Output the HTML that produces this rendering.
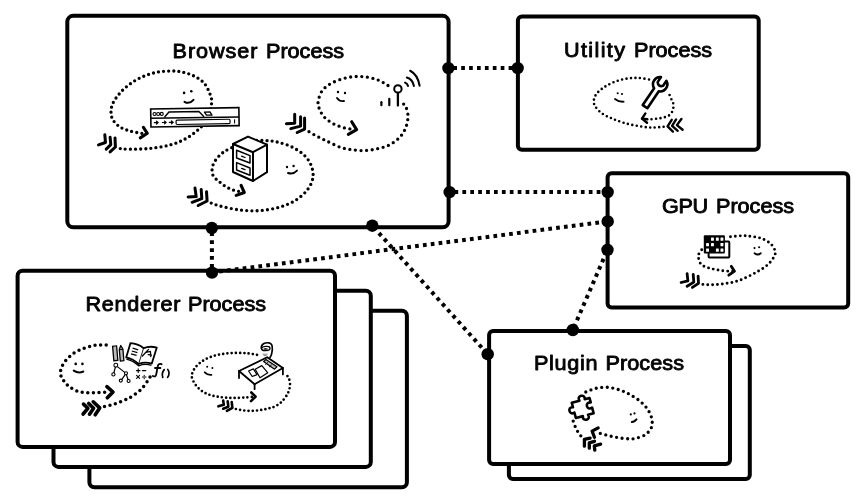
<!DOCTYPE html>
<html><head><meta charset="utf-8"><title>Browser processes</title>
<style>html,body{margin:0;padding:0;background:#fff;}body{width:865px;height:499px;overflow:hidden;font-family:"Liberation Sans",sans-serif;}svg{display:block;will-change:transform;opacity:0.999;}text{font-family:"Liberation Sans",sans-serif;}</style></head><body>
<svg width="865" height="499" viewBox="0 0 865 499">
<rect width="865" height="499" fill="#fff"/>
<g id="boxes">
<rect x="89.4" y="310.7" width="317.5" height="176.5" rx="5" fill="#fff" stroke="#000" stroke-width="4"/>
<rect x="53.5" y="290.8" width="317.3" height="176.1" rx="5" fill="#fff" stroke="#000" stroke-width="4"/>
<rect x="17.6" y="270.8" width="317.4" height="176.1" rx="5" fill="#fff" stroke="#000" stroke-width="4"/>
<rect x="508.9" y="345.9" width="240.9" height="133.1" rx="4" fill="#fff" stroke="#000" stroke-width="4"/>
<rect x="489.1" y="331.0" width="240.9" height="133.0" rx="4" fill="#fff" stroke="#000" stroke-width="4"/>
<rect x="67.3" y="15.8" width="381.3" height="211.5" rx="6" fill="#fff" stroke="#000" stroke-width="4"/>
<rect x="517.9" y="16.5" width="240.8" height="133.2" rx="4" fill="#fff" stroke="#000" stroke-width="4"/>
<rect x="607.6" y="173.3" width="240.6" height="134.1" rx="4" fill="#fff" stroke="#000" stroke-width="4"/>
</g>
<g id="connectors">
<line x1="448.4" y1="68.1" x2="517.7" y2="68.1" stroke="#000" stroke-width="4" stroke-dasharray="3.7 4.2" stroke-dashoffset="-4.9"/>
<line x1="449.0" y1="192.1" x2="607.7" y2="192.1" stroke="#000" stroke-width="4" stroke-dasharray="3.7 4.2" stroke-dashoffset="-5.5"/>
<line x1="211.9" y1="228.0" x2="211.9" y2="272.5" stroke="#000" stroke-width="4" stroke-dasharray="3.7 4.2" stroke-dashoffset="-4.4"/>
<line x1="212.0" y1="272.5" x2="607.7" y2="221.4" stroke="#000" stroke-width="4" stroke-dasharray="3.7 4.2" stroke-dashoffset="-7.3"/>
<line x1="372.3" y1="225.7" x2="487.7" y2="354.2" stroke="#000" stroke-width="4" stroke-dasharray="3.7 4.2" stroke-dashoffset="-2"/>
<line x1="607.5" y1="249.8" x2="572.8" y2="330.0" stroke="#000" stroke-width="4" stroke-dasharray="3.7 4.2" stroke-dashoffset="-2"/>
<circle cx="448.4" cy="68.1" r="6.2" fill="#000"/>
<circle cx="517.7" cy="68.1" r="6.2" fill="#000"/>
<circle cx="449.6" cy="192.1" r="6.2" fill="#000"/>
<circle cx="607.7" cy="192.1" r="6.2" fill="#000"/>
<circle cx="607.7" cy="221.4" r="6.2" fill="#000"/>
<circle cx="607.5" cy="249.8" r="6.2" fill="#000"/>
<circle cx="211.8" cy="228.0" r="6.2" fill="#000"/>
<circle cx="212.0" cy="272.6" r="6.2" fill="#000"/>
<circle cx="372.3" cy="225.7" r="6.2" fill="#000"/>
<circle cx="487.7" cy="354.2" r="6.2" fill="#000"/>
<circle cx="572.8" cy="330.0" r="6.2" fill="#000"/>
</g>
<g id="labels" style="opacity:0.99;will-change:transform">
<text transform="translate(172.50 57.6) scale(1.05 1)" x="0" y="0" font-size="20.6" font-weight="normal" textLength="80.97" lengthAdjust="spacing" fill="#000" stroke="#000" stroke-width="0.9" stroke-linejoin="round" vector-effect="non-scaling-stroke">Browser</text>
<text transform="translate(266.00 57.6) scale(1.05 1)" x="0" y="0" font-size="20.6" font-weight="normal" textLength="74.30" lengthAdjust="spacing" fill="#000" stroke="#000" stroke-width="0.9" stroke-linejoin="round" vector-effect="non-scaling-stroke">Process</text>
<text transform="translate(564.00 56.8) scale(1.05 1)" x="0" y="0" font-size="20.6" font-weight="normal" textLength="58.10" lengthAdjust="spacing" fill="#000" stroke="#000" stroke-width="0.9" stroke-linejoin="round" vector-effect="non-scaling-stroke">Utility</text>
<text transform="translate(634.00 56.8) scale(1.05 1)" x="0" y="0" font-size="20.6" font-weight="normal" textLength="74.30" lengthAdjust="spacing" fill="#000" stroke="#000" stroke-width="0.9" stroke-linejoin="round" vector-effect="non-scaling-stroke">Process</text>
<text transform="translate(662.00 212.6) scale(1.05 1)" x="0" y="0" font-size="20.6" font-weight="normal" textLength="43.83" lengthAdjust="spacing" fill="#000" stroke="#000" stroke-width="0.9" stroke-linejoin="round" vector-effect="non-scaling-stroke">GPU</text>
<text transform="translate(716.00 212.6) scale(1.05 1)" x="0" y="0" font-size="20.6" font-weight="normal" textLength="74.30" lengthAdjust="spacing" fill="#000" stroke="#000" stroke-width="0.9" stroke-linejoin="round" vector-effect="non-scaling-stroke">Process</text>
<text transform="translate(534.00 370.3) scale(1.05 1)" x="0" y="0" font-size="20.6" font-weight="normal" textLength="60.51" lengthAdjust="spacing" fill="#000" stroke="#000" stroke-width="0.9" stroke-linejoin="round" vector-effect="non-scaling-stroke">Plugin</text>
<text transform="translate(605.50 370.3) scale(1.05 1)" x="0" y="0" font-size="20.6" font-weight="normal" textLength="74.79" lengthAdjust="spacing" fill="#000" stroke="#000" stroke-width="0.9" stroke-linejoin="round" vector-effect="non-scaling-stroke">Process</text>
<text transform="translate(85.50 310.8) scale(1.05 1)" x="0" y="0" font-size="20.6" font-weight="normal" textLength="90.50" lengthAdjust="spacing" fill="#000" stroke="#000" stroke-width="0.9" stroke-linejoin="round" vector-effect="non-scaling-stroke">Renderer</text>
<text transform="translate(188.00 310.8) scale(1.05 1)" x="0" y="0" font-size="20.6" font-weight="normal" textLength="74.30" lengthAdjust="spacing" fill="#000" stroke="#000" stroke-width="0.9" stroke-linejoin="round" vector-effect="non-scaling-stroke">Process</text>
</g>
<g id="d-browser-ui">
<path d="M120.3 148.6 C121.9 148.7 125.0 149.2 130.0 149.2 C134.9 149.2 143.3 149.1 150.0 148.4 C156.7 147.7 164.0 146.7 170.0 145.0 C176.0 143.3 181.2 141.2 186.0 138.5 C190.8 135.8 195.3 132.4 199.0 129.0 C202.7 125.6 205.9 122.3 208.0 118.0 C210.1 113.7 211.3 107.0 211.6 103.0 C211.9 99.0 211.3 97.3 210.0 94.0 C208.7 90.7 206.7 86.0 204.0 83.0 C201.3 80.0 197.7 77.8 194.0 76.0 C190.3 74.2 186.0 72.8 182.0 72.0 C178.0 71.2 174.3 70.9 170.0 71.0 C165.7 71.1 160.7 71.4 156.0 72.4 C151.3 73.4 146.3 75.1 142.0 77.0 C137.7 78.9 133.7 81.3 130.0 84.0 C126.3 86.7 122.8 89.8 120.0 93.0 C117.2 96.2 114.5 99.8 113.0 103.0 C111.5 106.2 111.0 109.2 111.0 112.0 C111.0 114.8 111.5 117.5 113.0 120.0 C114.5 122.5 117.2 125.2 120.0 127.0 C122.8 128.8 126.5 130.0 130.0 131.0 C133.5 132.0 138.4 132.8 141.0 133.2 C143.6 133.6 144.8 133.4 145.5 133.4" fill="none" stroke="#000" stroke-width="3.3" stroke-linecap="round" stroke-dasharray="0 5.1"/>
<path d="M143.4 127.4 L147.3 133.3 L140.3 137.9" fill="none" stroke="#000" stroke-width="3.1" stroke-linecap="round" stroke-linejoin="round"/>
<path d="M104.8 134.7 L105.5 142.5 L98.5 144.9" fill="none" stroke="#000" stroke-width="3" stroke-linecap="round" stroke-linejoin="round"/>
<path d="M110.1 137.2 L110.8 144.6 L106.2 149.1" fill="none" stroke="#000" stroke-width="3" stroke-linecap="round" stroke-linejoin="round"/>
<path d="M115.0 137.9 L115.4 147.0 L110.1 151.9" fill="none" stroke="#000" stroke-width="3" stroke-linecap="round" stroke-linejoin="round"/>
<circle cx="184.1" cy="92.9" r="1.3" fill="#000" stroke="#000" stroke-width="0"/>
<circle cx="191.3" cy="91.2" r="1.3" fill="#000" stroke="#000" stroke-width="0"/>
<path d="M184.5 101.8 Q189.3 104.6 193.5 99.8" fill="none" stroke="#000" stroke-width="2" stroke-linecap="round"/>
<g transform="rotate(-0.9 195 117)">
<rect x="150.8" y="108.3" width="88.2" height="18" fill="#fff" stroke="#000" stroke-width="1.6"/>
<line x1="150.8" y1="117.6" x2="239" y2="117.6" stroke="#000" stroke-width="1.5"/>
<circle cx="154.6" cy="113.4" r="1.5" fill="#fff" stroke="#000" stroke-width="1.1"/>
<circle cx="158.2" cy="113.4" r="1.5" fill="#fff" stroke="#000" stroke-width="1.1"/>
<circle cx="161.8" cy="113.4" r="1.5" fill="#fff" stroke="#000" stroke-width="1.1"/>
<path d="M164.5 116.8 L169 111.6 L199 111.6 L204 116.8" fill="none" stroke="#000" stroke-width="1.4" stroke-linejoin="round"/>
<path d="M204.5 112.2 L210 112.2 L212 115.4 L206.5 115.4 Z" fill="#fff" stroke="#000" stroke-width="1.3" stroke-linejoin="round"/>
<path d="M154.3 122 h3.4 M156.4 120.6 l1.6 1.4 l-1.6 1.4" fill="none" stroke="#000" stroke-width="1.2" stroke-linecap="round"/>
<path d="M162.3 122 h3.4 M164.4 120.6 l1.6 1.4 l-1.6 1.4" fill="none" stroke="#000" stroke-width="1.2" stroke-linecap="round"/>
<path d="M169.3 122 h3.4 M171.4 120.6 l1.6 1.4 l-1.6 1.4" fill="none" stroke="#000" stroke-width="1.2" stroke-linecap="round"/>
<rect x="176" y="119.8" width="54" height="4.4" rx="1.2" fill="#fff" stroke="#000" stroke-width="1.2"/>
<line x1="234.5" y1="120" x2="234.5" y2="124.2" stroke="#000" stroke-width="1.1"/>
</g></g>
<g id="d-browser-storage">
<path d="M211.2 203.1 C212.7 203.6 215.2 204.8 220.0 206.0 C224.8 207.2 233.3 209.2 240.0 210.0 C246.7 210.8 253.3 211.1 260.0 210.6 C266.7 210.1 274.0 208.8 280.0 207.0 C286.0 205.2 291.3 203.0 296.0 200.0 C300.7 197.0 305.2 192.8 308.0 189.0 C310.8 185.2 312.5 181.0 313.0 177.0 C313.5 173.0 312.5 168.7 311.0 165.0 C309.5 161.3 307.2 158.0 304.0 155.0 C300.8 152.0 296.3 149.1 292.0 147.0 C287.7 144.9 282.3 143.3 278.0 142.2 C273.7 141.1 270.7 140.8 266.0 140.6 C261.3 140.4 255.8 139.8 250.0 141.0 C244.2 142.2 236.0 145.7 231.0 148.0 C226.0 150.3 223.0 152.2 220.0 155.0 C217.0 157.8 214.2 161.8 213.0 165.0 C211.8 168.2 211.9 171.6 212.5 174.0 C213.1 176.4 215.3 178.2 216.5 179.5 C217.7 180.8 218.4 181.0 219.7 182.0 C221.0 183.0 222.6 184.5 224.1 185.5 C225.6 186.5 227.0 187.3 228.6 188.1 C230.2 188.9 231.8 189.6 233.4 190.1 C235.0 190.6 236.8 191.0 238.3 191.3 C239.8 191.7 241.8 192.0 242.5 192.2" fill="none" stroke="#000" stroke-width="3.3" stroke-linecap="round" stroke-dasharray="0 5.2"/>
<path d="M241.1 185.3 L244.3 192.5 L236.2 195.4" fill="none" stroke="#000" stroke-width="3.1" stroke-linecap="round" stroke-linejoin="round"/>
<path d="M195.0 188.1 L196.2 196.6 L188.1 197.0" fill="none" stroke="#000" stroke-width="3" stroke-linecap="round" stroke-linejoin="round"/>
<path d="M201.2 189.5 L201.8 198.6 L192.1 202.3" fill="none" stroke="#000" stroke-width="3" stroke-linecap="round" stroke-linejoin="round"/>
<path d="M206.5 191.7 L207.1 201.0 L198.2 205.5" fill="none" stroke="#000" stroke-width="3" stroke-linecap="round" stroke-linejoin="round"/>
<circle cx="287.0" cy="167.0" r="1.2" fill="#000" stroke="#000" stroke-width="0"/>
<circle cx="293.6" cy="166.0" r="1.2" fill="#000" stroke="#000" stroke-width="0"/>
<path d="M288.0 173.0 Q293.0 174.8 297.0 170.6" fill="none" stroke="#000" stroke-width="1.9" stroke-linecap="round"/>
<path d="M233.0 144.0 L248.0 136.6 L267.0 144.6 L267.0 172.2 L253.0 181.0 L233.0 172.0 Z" fill="#fff" stroke="#000" stroke-width="2" stroke-linecap="round" stroke-linejoin="round"/>
<path d="M233.0 144.0 L253.0 152.2 L267.0 144.6" fill="none" stroke="#000" stroke-width="2" stroke-linecap="round" stroke-linejoin="round"/>
<path d="M253.0 152.2 L253.0 181.0" fill="none" stroke="#000" stroke-width="2" stroke-linecap="round" stroke-linejoin="round"/>
<path d="M236.6 150.2 L250.0 155.6 L250.0 163.0 L236.6 158.0 Z" fill="#fff" stroke="#000" stroke-width="1.5" stroke-linecap="round" stroke-linejoin="round"/>
<path d="M236.6 162.6 L250.0 168.0 L250.0 175.2 L236.6 170.0 Z" fill="#fff" stroke="#000" stroke-width="1.5" stroke-linecap="round" stroke-linejoin="round"/>
<path d="M241.6 156.2 L245.0 157.5" fill="none" stroke="#000" stroke-width="1.3" stroke-linecap="round" stroke-linejoin="round"/>
<path d="M241.6 168.4 L245.0 169.7" fill="none" stroke="#000" stroke-width="1.3" stroke-linecap="round" stroke-linejoin="round"/>
</g>
<g id="d-browser-net">
<path d="M309.0 131.7 C309.9 132.2 312.4 133.8 314.1 134.7 C315.8 135.6 317.4 136.5 319.1 137.4 C320.8 138.3 322.5 139.1 324.2 139.9 C325.9 140.7 326.7 141.1 329.3 142.3 C331.9 143.5 336.2 145.8 339.6 147.0 C343.1 148.2 345.9 148.8 350.0 149.4 C354.1 150.0 359.3 150.7 364.0 150.6 C368.7 150.5 373.7 149.6 378.0 148.6 C382.3 147.6 386.3 146.5 390.0 144.6 C393.7 142.7 397.3 139.9 400.0 137.0 C402.7 134.1 404.7 130.5 406.0 127.0 C407.3 123.5 408.0 119.3 408.0 116.0 C408.0 112.7 406.7 109.0 406.0 107.0 C405.3 105.0 404.0 104.5 403.6 104.0" fill="none" stroke="#000" stroke-width="3.3" stroke-linecap="round" stroke-dasharray="0 5.6"/>
<path d="M388.0 85.5 C386.3 84.6 381.7 81.4 378.0 80.0 C374.3 78.6 370.0 77.6 366.0 77.0 C362.0 76.4 358.0 76.3 354.0 76.6 C350.0 76.9 346.0 77.8 342.0 79.0 C338.0 80.2 333.3 82.0 330.0 84.0 C326.7 86.0 324.0 88.2 322.0 91.0 C320.0 93.8 318.7 98.3 318.2 101.0 C317.7 103.7 318.3 105.3 318.8 107.2 C319.3 109.1 320.1 110.7 321.0 112.4 C321.9 114.1 323.2 115.9 324.5 117.3 C325.8 118.7 327.3 119.8 328.8 120.9 C330.3 122.0 331.9 123.0 333.6 123.9 C335.3 124.8 337.0 125.4 338.8 126.1 C340.6 126.8 342.6 127.4 344.4 127.9 C346.2 128.4 348.1 128.7 349.8 128.9 C351.5 129.2 353.7 129.3 354.5 129.4" fill="none" stroke="#000" stroke-width="3.3" stroke-linecap="round" stroke-dasharray="0 5.6"/>
<path d="M351.7 121.7 L356.6 129.6 L348.3 134.3" fill="none" stroke="#000" stroke-width="3.1" stroke-linecap="round" stroke-linejoin="round"/>
<path d="M294.7 114.3 L294.7 123.2 L286.4 123.7" fill="none" stroke="#000" stroke-width="3" stroke-linecap="round" stroke-linejoin="round"/>
<path d="M300.6 116.8 L300.6 126.1 L290.8 128.6" fill="none" stroke="#000" stroke-width="3" stroke-linecap="round" stroke-linejoin="round"/>
<path d="M304.6 118.0 L304.6 129.1 L297.2 132.5" fill="none" stroke="#000" stroke-width="3" stroke-linecap="round" stroke-linejoin="round"/>
<circle cx="338.0" cy="92.0" r="1.2" fill="#000" stroke="#000" stroke-width="0"/>
<circle cx="345.0" cy="93.0" r="1.2" fill="#000" stroke="#000" stroke-width="0"/>
<path d="M337.0 98.0 Q339.5 101.7 344.0 101.0" fill="none" stroke="#000" stroke-width="1.9" stroke-linecap="round"/>
<circle cx="397.9" cy="88.9" r="3.7" fill="#fff" stroke="#000" stroke-width="2"/>
<path d="M397.9 93.1 L397.9 105.6" fill="none" stroke="#000" stroke-width="2.3" stroke-linecap="round" stroke-linejoin="round"/>
<path d="M389.3 98.8 L389.3 105.2" fill="none" stroke="#000" stroke-width="2.2" stroke-linecap="round" stroke-linejoin="round"/>
<path d="M381.4 102.2 L381.4 105.2" fill="none" stroke="#000" stroke-width="2.2" stroke-linecap="round" stroke-linejoin="round"/>
<path d="M405.1 82.6 Q407.4 83.6 408 85.9" fill="none" stroke="#000" stroke-width="2.1" stroke-linecap="round"/>
<path d="M406.9 77.6 Q412.6 79.4 413.9 85.9" fill="none" stroke="#000" stroke-width="2.1" stroke-linecap="round"/>
<path d="M410.2 70.8 Q417.6 74.6 419.6 85.6" fill="none" stroke="#000" stroke-width="2.1" stroke-linecap="round"/>
</g>
<g id="d-utility">
<path d="M663.6 126.7 C661.6 126.8 656.1 127.7 651.8 127.6 C647.5 127.5 642.5 126.8 638.0 126.0 C633.5 125.2 628.7 124.2 624.5 123.0 C620.3 121.8 616.3 120.3 612.6 118.8 C608.9 117.2 605.2 115.7 602.4 113.7 C599.5 111.7 596.9 108.9 595.5 106.8 C594.1 104.7 593.6 103.0 593.8 100.9 C593.9 98.8 594.7 96.3 596.4 94.0 C598.1 91.7 601.0 89.3 604.0 87.3 C607.0 85.3 610.6 83.4 614.3 82.0 C618.0 80.6 622.2 79.4 626.2 78.7 C630.2 78.0 634.0 77.8 638.0 77.9 C642.0 78.1 648.0 79.3 650.0 79.6" fill="none" stroke="#000" stroke-width="2.6" stroke-linecap="round" stroke-dasharray="0 4.5"/>
<path d="M669.6 95.0 C670.0 95.8 671.1 98.6 671.7 100.0 C672.3 101.4 673.0 102.2 673.3 103.6 C673.6 104.9 673.5 106.6 673.3 108.1 C673.1 109.5 672.6 111.1 671.9 112.3 C671.2 113.5 670.2 114.6 669.0 115.4 C667.8 116.2 666.2 116.7 664.8 117.2 C663.3 117.7 661.8 117.9 660.3 118.2 C658.8 118.5 657.4 118.6 655.9 118.8 C654.4 119.0 652.1 119.1 651.4 119.2" fill="none" stroke="#000" stroke-width="2.6" stroke-linecap="round" stroke-dasharray="0 4.5"/>
<path d="M645.4 113.4 L642.0 118.6 L647.0 122.7" fill="none" stroke="#000" stroke-width="2.4" stroke-linecap="round" stroke-linejoin="round"/>
<path d="M642.0 118.6 L647.4 119.3" fill="none" stroke="#000" stroke-width="2.4" stroke-linecap="round" stroke-linejoin="round"/>
<path d="M681.4 119.0 L676.9 125.1 L682.6 129.8" fill="none" stroke="#000" stroke-width="2.4" stroke-linecap="round" stroke-linejoin="round"/>
<path d="M676.1 119.4 L672.1 125.9 L677.7 130.8" fill="none" stroke="#000" stroke-width="2.4" stroke-linecap="round" stroke-linejoin="round"/>
<path d="M671.7 119.8 L667.6 126.3 L672.9 131.6" fill="none" stroke="#000" stroke-width="2.4" stroke-linecap="round" stroke-linejoin="round"/>
<circle cx="617.7" cy="93.2" r="1.05" fill="#000" stroke="#000" stroke-width="0"/>
<circle cx="622.0" cy="94.0" r="1.05" fill="#000" stroke="#000" stroke-width="0"/>
<path d="M615.0 99.0 Q618.5 102.0 623.6 101.7" fill="none" stroke="#000" stroke-width="1.8" stroke-linecap="round"/>
<g transform="translate(654 93.4) rotate(34)">
<path d="M-2.8 16 L-2.8 -4.4 A7.2 7.2 0 0 1 -3.3 -17.4 L-3.3 -11.4 Q0 -7.4 3.3 -11.4 L3.3 -17.4 A7.2 7.2 0 0 1 2.8 -4.4 L2.8 16 Z" fill="#fff" stroke="#000" stroke-width="2.6" stroke-linejoin="round"/>
</g></g>
<g id="d-gpu">
<path d="M702.9 284.4 C703.7 284.5 706.2 284.7 707.8 284.8 C709.4 284.9 711.0 284.9 712.6 284.8 C714.2 284.8 715.9 284.6 717.5 284.5 C719.1 284.4 720.7 284.2 722.3 284.0 C723.9 283.8 725.6 283.6 727.2 283.3 C728.8 283.0 730.5 282.8 732.1 282.4 C733.7 282.0 735.3 281.6 736.9 281.1 C738.5 280.6 738.7 280.9 741.8 279.5 C744.9 278.1 751.1 275.2 755.4 272.8 C759.6 270.4 764.2 267.8 767.3 265.1 C770.4 262.4 772.8 259.0 774.1 256.6 C775.4 254.2 775.6 252.8 775.0 250.7 C774.4 248.6 772.8 245.8 770.7 243.8 C768.6 241.8 765.3 239.9 762.2 238.7 C759.1 237.5 755.4 237.0 752.0 236.5 C748.6 236.0 745.8 235.7 741.8 235.8 C737.8 235.9 730.3 236.8 728.0 237.0" fill="none" stroke="#000" stroke-width="2.9" stroke-linecap="round" stroke-dasharray="0 4.86"/>
<path d="M701.7 249.8 C701.2 250.6 699.1 253.0 698.6 254.5 C698.1 256.0 698.4 257.4 698.7 258.9 C699.0 260.4 699.5 262.2 700.5 263.5 C701.5 264.8 703.0 265.8 704.5 266.6 C706.0 267.4 707.8 267.7 709.4 268.1 C711.0 268.6 712.5 269.0 714.1 269.3 C715.7 269.6 717.3 269.9 718.9 270.1 C720.5 270.4 722.1 270.6 723.8 270.8 C725.4 271.0 727.3 271.1 728.8 271.2 C730.3 271.3 732.3 271.3 733.0 271.3" fill="none" stroke="#000" stroke-width="2.9" stroke-linecap="round" stroke-dasharray="0 4.86"/>
<path d="M731.2 266.3 L734.5 271.2 L728.8 275.2" fill="none" stroke="#000" stroke-width="2.8" stroke-linecap="round" stroke-linejoin="round"/>
<path d="M687.1 273.6 L687.9 280.9 L681.1 282.5" fill="none" stroke="#000" stroke-width="2.8" stroke-linecap="round" stroke-linejoin="round"/>
<path d="M693.2 274.4 L693.8 282.1 L687.1 286.2" fill="none" stroke="#000" stroke-width="2.8" stroke-linecap="round" stroke-linejoin="round"/>
<path d="M698.1 276.2 L698.5 283.3 L692.4 287.4" fill="none" stroke="#000" stroke-width="2.8" stroke-linecap="round" stroke-linejoin="round"/>
<circle cx="754.5" cy="248.1" r="1.05" fill="#000" stroke="#000" stroke-width="0"/>
<circle cx="759.1" cy="247.3" r="1.05" fill="#000" stroke="#000" stroke-width="0"/>
<path d="M754.5 253.2 Q757.8 255.8 760.8 253.2" fill="none" stroke="#000" stroke-width="1.8" stroke-linecap="round"/>
<rect x="708.6" y="241.6" width="20.7" height="16" rx="0.8" fill="#fff" stroke="#000" stroke-width="2"/>
<rect x="703.8" y="235.2" width="21.1" height="18.4" rx="1" fill="#000"/>
<rect x="711.0" y="237.5" width="2.9" height="3.3" rx="0.4" fill="#fff"/>
<rect x="715.9" y="237.5" width="2.9" height="3.3" rx="0.4" fill="#fff"/>
<rect x="720.5" y="237.5" width="2.9" height="3.3" rx="0.4" fill="#fff"/>
<rect x="706.1" y="243.0" width="2.9" height="3.3" rx="0.4" fill="#fff"/>
<rect x="711.0" y="243.0" width="2.9" height="3.3" rx="0.4" fill="#fff"/>
<rect x="720.5" y="243.0" width="2.9" height="3.3" rx="0.4" fill="#fff"/>
<rect x="706.1" y="248.5" width="2.9" height="3.3" rx="0.4" fill="#fff"/>
<rect x="715.9" y="248.5" width="2.9" height="3.3" rx="0.4" fill="#fff"/>
<rect x="720.5" y="248.5" width="2.9" height="3.3" rx="0.4" fill="#fff"/>
</g>
<g id="d-plugin">
<path d="M580.8 435.8 C580.2 435.0 578.5 432.8 577.5 431.2 C576.5 429.6 575.7 427.8 575.0 426.1 C574.3 424.4 573.4 421.7 573.1 420.8" fill="none" stroke="#000" stroke-width="3.3" stroke-linecap="round" stroke-dasharray="0 5.5"/>
<path d="M585.8 392.0 C587.5 391.4 592.3 389.1 596.0 388.3 C599.7 387.5 603.9 387.0 607.9 387.3 C611.9 387.6 616.1 388.8 619.8 390.0 C623.5 391.2 626.6 392.7 630.0 394.6 C633.4 396.5 637.3 398.8 640.3 401.4 C643.3 403.9 646.1 406.9 648.0 409.9 C649.9 412.9 651.4 416.3 651.9 419.3 C652.4 422.3 652.4 425.2 651.3 427.8 C650.2 430.4 647.8 432.9 645.4 434.6 C643.0 436.3 639.3 437.3 637.0 438.0 C634.7 438.7 633.3 438.8 631.5 438.9 C629.7 439.0 628.0 438.8 626.1 438.6 C624.2 438.5 622.2 438.3 620.4 438.0 C618.5 437.7 616.8 437.4 615.0 437.0 C613.2 436.6 611.3 436.3 609.5 435.9 C607.7 435.5 605.8 434.9 604.0 434.4 C602.2 433.9 599.5 433.2 598.6 433.0" fill="none" stroke="#000" stroke-width="3.3" stroke-linecap="round" stroke-dasharray="0 5.55"/>
<path d="M598.2 427.9 L592.1 431.2 L594.5 437.3" fill="none" stroke="#000" stroke-width="3.2" stroke-linecap="round" stroke-linejoin="round"/>
<path d="M590.1 438.1 L584.4 439.3 L584.4 446.2" fill="none" stroke="#000" stroke-width="3.3" stroke-linecap="round" stroke-linejoin="round"/>
<path d="M594.5 441.3 L589.3 442.9 L589.3 448.2" fill="none" stroke="#000" stroke-width="3.3" stroke-linecap="round" stroke-linejoin="round"/>
<path d="M600.6 444.1 L594.3 445.8 L594.8 450.2" fill="none" stroke="#000" stroke-width="3.3" stroke-linecap="round" stroke-linejoin="round"/>
<circle cx="630.8" cy="414.4" r="1.1" fill="#000" stroke="#000" stroke-width="0"/>
<circle cx="634.5" cy="413.4" r="1.1" fill="#000" stroke="#000" stroke-width="0"/>
<path d="M631.8 421.9 Q635.0 421.9 636.5 419.3" fill="none" stroke="#000" stroke-width="2" stroke-linecap="round"/>
<g transform="translate(582.7 408) rotate(-15)">
<path d="M-9.2 -7.9 L-1.2 -7.9 C-3.6 -13.6 6.6 -13.6 4.2 -7.9 L9.2 -7.9 L9.2 -3.3 C3 -5.6 3 4.4 9.2 2.1 L9.2 7.9 L3.4 7.9 C5.8 13.7 -4.3 13.7 -1.9 7.9 L-9.2 7.9 L-9.2 2.2 C-15 4.5 -15 -5.5 -9.2 -3.2 Z" fill="#fff" stroke="#000" stroke-width="2.6" stroke-linejoin="round"/>
</g></g>
<g id="d-render1">
<path d="M104.5 406.5 C105.5 406.3 108.4 405.7 110.2 405.2 C112.0 404.7 113.6 404.2 115.4 403.6 C117.2 403.0 119.1 402.3 120.9 401.6 C122.7 400.9 124.7 400.1 126.2 399.4 C127.7 398.7 127.5 399.3 130.0 397.6 C132.5 395.9 138.2 392.2 141.4 389.0 C144.6 385.8 147.4 381.0 149.0 378.6 C150.6 376.2 150.7 375.4 151.0 374.8" fill="none" stroke="#000" stroke-width="3.5" stroke-linecap="round" stroke-dasharray="0 5.6"/>
<path d="M106.2 344.9 C104.5 344.9 99.4 344.7 95.7 345.2 C92.0 345.7 88.1 346.7 84.3 348.1 C80.5 349.5 76.2 351.4 72.9 353.8 C69.6 356.2 66.4 359.5 64.3 362.4 C62.2 365.3 61.0 368.5 60.5 371.0 C60.0 373.5 60.9 375.6 61.6 377.5 C62.4 379.4 63.8 380.8 65.0 382.3 C66.2 383.8 67.3 385.1 68.7 386.3 C70.1 387.5 71.8 388.4 73.5 389.3 C75.2 390.2 77.0 391.1 78.8 391.6 C80.6 392.1 82.4 392.3 84.3 392.5 C86.2 392.7 88.0 392.7 89.9 392.7 C91.8 392.7 93.7 392.8 95.6 392.7 C97.5 392.6 99.2 392.5 101.1 392.4 C103.0 392.3 105.8 392.1 106.8 392.0" fill="none" stroke="#000" stroke-width="3.5" stroke-linecap="round" stroke-dasharray="0 5.6"/>
<path d="M106.9 386.6 L113.0 392.0 L107.3 397.8" fill="none" stroke="#000" stroke-width="3.6" stroke-linecap="round" stroke-linejoin="round"/>
<path d="M83.5 404.1 L87.9 408.3 L83.1 414.0" fill="none" stroke="#000" stroke-width="3.6" stroke-linecap="round" stroke-linejoin="round"/>
<path d="M88.7 403.5 L93.6 408.3 L89.5 414.2" fill="none" stroke="#000" stroke-width="3.6" stroke-linecap="round" stroke-linejoin="round"/>
<path d="M93.2 401.8 L99.7 407.9 L95.2 414.8" fill="none" stroke="#000" stroke-width="3.6" stroke-linecap="round" stroke-linejoin="round"/>
<circle cx="75.7" cy="363.9" r="1.3" fill="#000" stroke="#000" stroke-width="0"/>
<circle cx="82.4" cy="363.9" r="1.3" fill="#000" stroke="#000" stroke-width="0"/>
<path d="M73.8 370.6 Q78.5 373.8 83.3 371.5" fill="none" stroke="#000" stroke-width="2.1" stroke-linecap="round"/>
<g transform="rotate(-5 118 353)">
<rect x="113.2" y="345.8" width="4" height="14.6" fill="#bdbdbd" stroke="#000" stroke-width="1.3"/>
<path d="M119.6 349.6 L121.4 345.8 L123.2 349.6 L123.2 361.2 L119.6 361.2 Z" fill="#bdbdbd" stroke="#000" stroke-width="1.3" stroke-linejoin="round"/>
<path d="M119.6 349.8 L123.2 349.8" stroke="#000" stroke-width="1"/>
</g>
<path d="M126.2 357.4 L130.4 343.2 Q138 343.6 143.6 348.2 Q150 345.6 156.8 347.6 L151.8 363.6 Q144.6 361.4 138.6 364 Q133 359 126.2 357.4 Z" fill="#fff" stroke="#000" stroke-width="1.8" stroke-linejoin="round"/>
<path d="M143.6 348.2 L138.6 364" stroke="#000" stroke-width="0.9" fill="none"/>
<path d="M132.6 348.2 L138.2 349.8 M131.8 351 L137.4 352.6 M131 353.8 L136.6 355.4" stroke="#000" stroke-width="1.2" fill="none"/>
<path d="M142.4 356 L148.6 349.4 M146 352.4 L150.4 351.4 L150.8 356.6 M148.2 354.6 L151.4 355.2" stroke="#000" stroke-width="1.3" fill="none" stroke-linecap="round" stroke-linejoin="round"/>
<path d="M126.4 359.2 Q133 360.6 138.6 365.8 Q145 363.2 151.4 365.4" stroke="#000" stroke-width="1.3" fill="none"/>
<path d="M115.8 365.4 L113.6 374 M115.8 365.4 L126 373.4 M126 373.4 L121.2 380.4 M126 373.4 L128.4 380.8" stroke="#000" stroke-width="1.2" fill="none"/>
<circle cx="115.8" cy="365.2" r="1.9" fill="#fff" stroke="#000" stroke-width="1.1"/>
<circle cx="113.4" cy="374.4" r="1.6" fill="#fff" stroke="#000" stroke-width="1.1"/>
<circle cx="126.0" cy="373.2" r="1.5" fill="#fff" stroke="#000" stroke-width="1.1"/>
<circle cx="120.8" cy="380.6" r="1.5" fill="#fff" stroke="#000" stroke-width="1.1"/>
<circle cx="128.6" cy="381.0" r="1.5" fill="#fff" stroke="#000" stroke-width="1.1"/>
<path d="M136.4 370.6 h3.6 M138.2 368.8 v3.6 M142.4 370.6 h3.4 M136.6 375.4 l3 3 M139.6 375.4 l-3 3 M142.4 377 h3.6 M144.2 375.2 v0.4 M144.2 378.4 v0.4" stroke="#000" stroke-width="1.1" fill="none" stroke-linecap="round"/>
<path d="M161.6 364.2 Q158.2 362.8 157.6 367 L156.2 374.6 Q155.6 377.4 152.8 376 M155 368 h5.4" stroke="#000" stroke-width="1.8" fill="none" stroke-linecap="round"/>
<path d="M164.2 369.6 Q161.2 373.4 162.8 377.4 M167.8 369.4 Q170.4 373 167.6 377.4" stroke="#000" stroke-width="1.7" fill="none" stroke-linecap="round"/>
</g>
<g id="d-render2">
<path d="M235.9 409.0 C236.6 409.1 238.8 409.6 240.2 409.9 C241.6 410.1 243.0 410.4 244.4 410.5 C245.8 410.6 247.3 410.8 248.7 410.8 C250.1 410.9 251.5 410.9 252.9 410.8 C254.3 410.8 255.8 410.6 257.2 410.5 C258.6 410.4 260.0 410.1 261.4 409.9 C262.8 409.7 264.3 409.4 265.7 409.1 C267.1 408.8 268.3 408.5 269.7 408.1 C271.1 407.7 272.1 407.8 274.0 406.9 C275.9 405.9 278.7 404.6 281.0 402.4 C283.3 400.2 286.1 396.7 287.6 393.8 C289.1 390.9 289.8 387.9 290.0 385.2 C290.2 382.5 289.3 379.3 288.6 377.6 C287.9 375.9 286.2 375.3 285.7 374.8" fill="none" stroke="#000" stroke-width="2.7" stroke-linecap="round" stroke-dasharray="0 4.25"/>
<path d="M257.0 354.8 C255.3 354.5 250.3 353.5 246.7 353.2 C243.1 352.9 239.0 352.8 235.2 352.9 C231.4 353.0 227.6 353.2 223.8 353.8 C220.0 354.4 216.1 355.0 212.4 356.3 C208.8 357.6 204.9 359.3 201.9 361.4 C198.9 363.5 196.0 366.4 194.3 369.0 C192.6 371.6 191.7 374.1 191.8 376.7 C192.0 379.2 193.8 382.1 195.2 384.3 C196.6 386.5 198.4 388.2 200.0 389.6 C201.6 391.0 203.5 392.1 205.0 392.9 C206.5 393.7 207.7 394.1 209.0 394.6 C210.3 395.1 211.8 395.5 213.1 395.8 C214.4 396.1 215.7 396.4 217.1 396.6 C218.5 396.8 219.3 397.0 221.4 397.2 C223.5 397.4 227.0 397.8 229.8 397.9 C232.6 398.0 235.6 397.9 238.4 397.8 C241.2 397.7 244.5 397.6 246.9 397.4 C249.3 397.2 252.0 396.9 253.0 396.8" fill="none" stroke="#000" stroke-width="2.7" stroke-linecap="round" stroke-dasharray="0 4.25"/>
<path d="M251.3 392.5 L255.6 396.6 L251.0 401.2" fill="none" stroke="#000" stroke-width="2.6" stroke-linecap="round" stroke-linejoin="round"/>
<path d="M223.2 400.6 L223.8 404.7 L218.4 406.3" fill="none" stroke="#000" stroke-width="2.6" stroke-linecap="round" stroke-linejoin="round"/>
<path d="M227.7 401.4 L228.3 406.7 L223.2 408.7" fill="none" stroke="#000" stroke-width="2.6" stroke-linecap="round" stroke-linejoin="round"/>
<path d="M231.7 402.0 L232.4 407.9 L226.9 410.9" fill="none" stroke="#000" stroke-width="2.6" stroke-linecap="round" stroke-linejoin="round"/>
<circle cx="207.2" cy="366.8" r="1" fill="#000" stroke="#000" stroke-width="0"/>
<circle cx="212.4" cy="368.1" r="1" fill="#000" stroke="#000" stroke-width="0"/>
<path d="M204.8 372.3 Q207.5 375.2 211.4 374.8" fill="none" stroke="#000" stroke-width="1.8" stroke-linecap="round"/>
<path d="M261.3 348.4 C261 344 265 342.4 268.8 342.8 C272.4 343.2 272.6 346 272.3 349.5 C272 353 271.6 355.6 270 357.4" fill="none" stroke="#000" stroke-width="1.7" stroke-linecap="round"/>
<ellipse cx="265.8" cy="348.5" rx="4.2" ry="2.1" transform="rotate(-6 265.8 348.5)" fill="#fff" stroke="#000" stroke-width="1.4"/>
<ellipse cx="265.6" cy="349" rx="2.2" ry="1" fill="#333"/>
<path d="M262.6 354.2 h5 M263.6 355.6 h3" stroke="#777" stroke-width="0.9" fill="none"/>
<path d="M239.0 371.0 L267.2 357.2 L282.9 368.0 L254.6 384.3 Z" fill="#fff" stroke="#000" stroke-width="1.8" stroke-linecap="round" stroke-linejoin="round"/>
<path d="M239.0 371.0 L239.0 378.0" fill="none" stroke="#000" stroke-width="1.8" stroke-linecap="round" stroke-linejoin="round"/>
<path d="M254.6 384.3 L254.6 389.2" fill="none" stroke="#000" stroke-width="1.8" stroke-linecap="round" stroke-linejoin="round"/>
<path d="M282.9 368.0 L282.9 374.4" fill="none" stroke="#000" stroke-width="1.8" stroke-linecap="round" stroke-linejoin="round"/>
<path d="M248.6 371.0 L253.4 368.9 L257.0 374.6 L252.2 376.5 Z" fill="#fff" stroke="#000" stroke-width="1.2" stroke-linecap="round" stroke-linejoin="round"/>
<path d="M255.2 369.2 L261.8 365.6 L267.8 372.8 L260.0 377.7 Z" fill="#fff" stroke="#000" stroke-width="1.2" stroke-linecap="round" stroke-linejoin="round"/>
<path d="M263.6 361.4 L266.0 359.6 L276.9 366.8 L274.5 369.2 Z" fill="#bdbdbd" stroke="#000" stroke-width="1.2" stroke-linecap="round" stroke-linejoin="round"/>
<path d="M267.6 362.6 L265.6 364.4" fill="none" stroke="#000" stroke-width="0.9" stroke-linecap="round" stroke-linejoin="round"/>
<path d="M271.4 365.0 L269.4 366.8" fill="none" stroke="#000" stroke-width="0.9" stroke-linecap="round" stroke-linejoin="round"/>
</g>
</svg></body></html>
